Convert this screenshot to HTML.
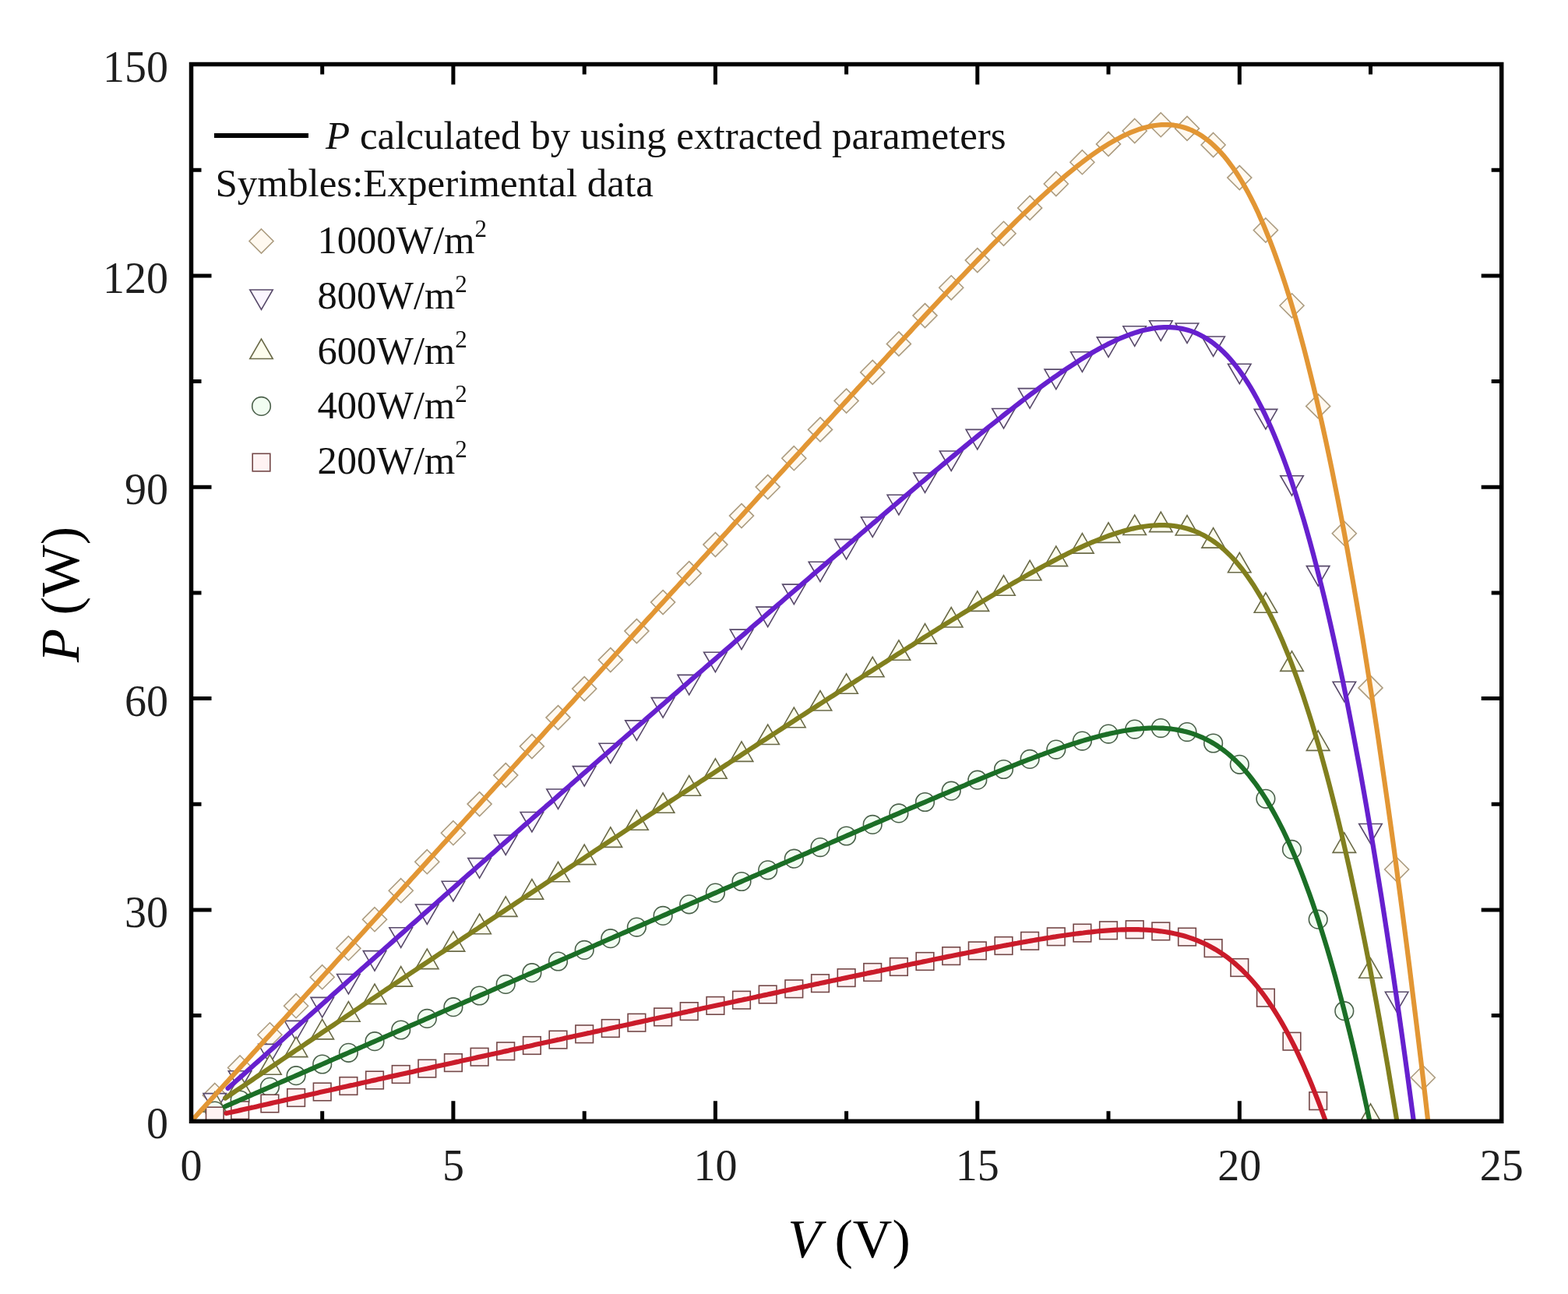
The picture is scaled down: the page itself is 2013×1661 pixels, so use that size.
<!DOCTYPE html>
<html><head><meta charset="utf-8"><style>html,body{margin:0;padding:0;background:#fff;}svg{display:block;}</style></head>
<body><svg width="2013" height="1661" viewBox="0 0 2013 1661">
<rect width="2013" height="1661" fill="#fff"/>
<path d="M413.7 1439.3V1426.3M413.7 82.5V95.5M581.9 1439.3V1413.3M581.9 82.5V108.5M750.2 1439.3V1426.3M750.2 82.5V95.5M918.4 1439.3V1413.3M918.4 82.5V108.5M1086.6 1439.3V1426.3M1086.6 82.5V95.5M1254.8 1439.3V1413.3M1254.8 82.5V108.5M1423.0 1439.3V1426.3M1423.0 82.5V95.5M1591.3 1439.3V1413.3M1591.3 82.5V108.5M1759.5 1439.3V1426.3M1759.5 82.5V95.5M245.5 1303.6H258.5M1927.7 1303.6H1914.7M245.5 1167.9H271.5M1927.7 1167.9H1901.7M245.5 1032.3H258.5M1927.7 1032.3H1914.7M245.5 896.6H271.5M1927.7 896.6H1901.7M245.5 760.9H258.5M1927.7 760.9H1914.7M245.5 625.2H271.5M1927.7 625.2H1901.7M245.5 489.5H258.5M1927.7 489.5H1914.7M245.5 353.9H271.5M1927.7 353.9H1901.7M245.5 218.2H258.5M1927.7 218.2H1914.7" stroke="#000" stroke-width="5" fill="none"/>
<defs><clipPath id="pc"><rect x="245.5" y="82.5" width="1682.2" height="1356.8"/></clipPath></defs>
<g clip-path="url(#pc)"><path d="M275.8 1390.5L291.3 1406.0L275.8 1421.5L260.3 1406.0Z" fill="#FFF9F0" stroke="#AC9C80" stroke-width="1.6"/><path d="M308.1 1355.0L323.6 1370.5L308.1 1386.0L292.6 1370.5Z" fill="#FFF9F0" stroke="#AC9C80" stroke-width="1.6"/><path d="M346.4 1312.8L361.9 1328.3L346.4 1343.8L330.9 1328.3Z" fill="#FFF9F0" stroke="#AC9C80" stroke-width="1.6"/><path d="M380.1 1275.7L395.6 1291.2L380.1 1306.7L364.6 1291.2Z" fill="#FFF9F0" stroke="#AC9C80" stroke-width="1.6"/><path d="M413.7 1238.7L429.2 1254.2L413.7 1269.7L398.2 1254.2Z" fill="#FFF9F0" stroke="#AC9C80" stroke-width="1.6"/><path d="M447.4 1201.7L462.9 1217.2L447.4 1232.7L431.9 1217.2Z" fill="#FFF9F0" stroke="#AC9C80" stroke-width="1.6"/><path d="M481.0 1164.7L496.5 1180.2L481.0 1195.7L465.5 1180.2Z" fill="#FFF9F0" stroke="#AC9C80" stroke-width="1.6"/><path d="M514.7 1127.7L530.2 1143.2L514.7 1158.7L499.2 1143.2Z" fill="#FFF9F0" stroke="#AC9C80" stroke-width="1.6"/><path d="M548.3 1090.7L563.8 1106.2L548.3 1121.7L532.8 1106.2Z" fill="#FFF9F0" stroke="#AC9C80" stroke-width="1.6"/><path d="M581.9 1053.7L597.4 1069.2L581.9 1084.7L566.4 1069.2Z" fill="#FFF9F0" stroke="#AC9C80" stroke-width="1.6"/><path d="M615.6 1016.6L631.1 1032.1L615.6 1047.6L600.1 1032.1Z" fill="#FFF9F0" stroke="#AC9C80" stroke-width="1.6"/><path d="M649.2 979.6L664.7 995.1L649.2 1010.6L633.7 995.1Z" fill="#FFF9F0" stroke="#AC9C80" stroke-width="1.6"/><path d="M682.9 942.6L698.4 958.1L682.9 973.6L667.4 958.1Z" fill="#FFF9F0" stroke="#AC9C80" stroke-width="1.6"/><path d="M716.5 905.6L732.0 921.1L716.5 936.6L701.0 921.1Z" fill="#FFF9F0" stroke="#AC9C80" stroke-width="1.6"/><path d="M750.2 868.6L765.7 884.1L750.2 899.6L734.7 884.1Z" fill="#FFF9F0" stroke="#AC9C80" stroke-width="1.6"/><path d="M783.8 831.6L799.3 847.1L783.8 862.6L768.3 847.1Z" fill="#FFF9F0" stroke="#AC9C80" stroke-width="1.6"/><path d="M817.4 794.6L832.9 810.1L817.4 825.6L801.9 810.1Z" fill="#FFF9F0" stroke="#AC9C80" stroke-width="1.6"/><path d="M851.1 757.6L866.6 773.1L851.1 788.6L835.6 773.1Z" fill="#FFF9F0" stroke="#AC9C80" stroke-width="1.6"/><path d="M884.7 720.6L900.2 736.1L884.7 751.6L869.2 736.1Z" fill="#FFF9F0" stroke="#AC9C80" stroke-width="1.6"/><path d="M918.4 683.6L933.9 699.1L918.4 714.6L902.9 699.1Z" fill="#FFF9F0" stroke="#AC9C80" stroke-width="1.6"/><path d="M952.0 646.6L967.5 662.1L952.0 677.6L936.5 662.1Z" fill="#FFF9F0" stroke="#AC9C80" stroke-width="1.6"/><path d="M985.7 609.6L1001.2 625.1L985.7 640.6L970.2 625.1Z" fill="#FFF9F0" stroke="#AC9C80" stroke-width="1.6"/><path d="M1019.3 572.7L1034.8 588.2L1019.3 603.7L1003.8 588.2Z" fill="#FFF9F0" stroke="#AC9C80" stroke-width="1.6"/><path d="M1053.0 535.9L1068.5 551.4L1053.0 566.9L1037.5 551.4Z" fill="#FFF9F0" stroke="#AC9C80" stroke-width="1.6"/><path d="M1086.6 499.1L1102.1 514.6L1086.6 530.1L1071.1 514.6Z" fill="#FFF9F0" stroke="#AC9C80" stroke-width="1.6"/><path d="M1120.2 462.4L1135.7 477.9L1120.2 493.4L1104.7 477.9Z" fill="#FFF9F0" stroke="#AC9C80" stroke-width="1.6"/><path d="M1153.9 425.9L1169.4 441.4L1153.9 456.9L1138.4 441.4Z" fill="#FFF9F0" stroke="#AC9C80" stroke-width="1.6"/><path d="M1187.5 389.6L1203.0 405.1L1187.5 420.6L1172.0 405.1Z" fill="#FFF9F0" stroke="#AC9C80" stroke-width="1.6"/><path d="M1221.2 353.8L1236.7 369.3L1221.2 384.8L1205.7 369.3Z" fill="#FFF9F0" stroke="#AC9C80" stroke-width="1.6"/><path d="M1254.8 318.6L1270.3 334.1L1254.8 349.6L1239.3 334.1Z" fill="#FFF9F0" stroke="#AC9C80" stroke-width="1.6"/><path d="M1288.5 284.3L1304.0 299.8L1288.5 315.3L1273.0 299.8Z" fill="#FFF9F0" stroke="#AC9C80" stroke-width="1.6"/><path d="M1322.1 251.4L1337.6 266.9L1322.1 282.4L1306.6 266.9Z" fill="#FFF9F0" stroke="#AC9C80" stroke-width="1.6"/><path d="M1355.8 220.5L1371.3 236.0L1355.8 251.5L1340.3 236.0Z" fill="#FFF9F0" stroke="#AC9C80" stroke-width="1.6"/><path d="M1389.4 192.7L1404.9 208.2L1389.4 223.7L1373.9 208.2Z" fill="#FFF9F0" stroke="#AC9C80" stroke-width="1.6"/><path d="M1423.0 169.4L1438.5 184.9L1423.0 200.4L1407.5 184.9Z" fill="#FFF9F0" stroke="#AC9C80" stroke-width="1.6"/><path d="M1456.7 152.5L1472.2 168.0L1456.7 183.5L1441.2 168.0Z" fill="#FFF9F0" stroke="#AC9C80" stroke-width="1.6"/><path d="M1490.3 144.7L1505.8 160.2L1490.3 175.7L1474.8 160.2Z" fill="#FFF9F0" stroke="#AC9C80" stroke-width="1.6"/><path d="M1524.0 149.4L1539.5 164.9L1524.0 180.4L1508.5 164.9Z" fill="#FFF9F0" stroke="#AC9C80" stroke-width="1.6"/><path d="M1557.6 170.5L1573.1 186.0L1557.6 201.5L1542.1 186.0Z" fill="#FFF9F0" stroke="#AC9C80" stroke-width="1.6"/><path d="M1591.3 212.6L1606.8 228.1L1591.3 243.6L1575.8 228.1Z" fill="#FFF9F0" stroke="#AC9C80" stroke-width="1.6"/><path d="M1624.9 280.0L1640.4 295.5L1624.9 311.0L1609.4 295.5Z" fill="#FFF9F0" stroke="#AC9C80" stroke-width="1.6"/><path d="M1658.5 376.8L1674.0 392.3L1658.5 407.8L1643.0 392.3Z" fill="#FFF9F0" stroke="#AC9C80" stroke-width="1.6"/><path d="M1692.2 505.9L1707.7 521.4L1692.2 536.9L1676.7 521.4Z" fill="#FFF9F0" stroke="#AC9C80" stroke-width="1.6"/><path d="M1725.8 669.2L1741.3 684.7L1725.8 700.2L1710.3 684.7Z" fill="#FFF9F0" stroke="#AC9C80" stroke-width="1.6"/><path d="M1759.5 867.4L1775.0 882.9L1759.5 898.4L1744.0 882.9Z" fill="#FFF9F0" stroke="#AC9C80" stroke-width="1.6"/><path d="M1793.1 1100.5L1808.6 1116.0L1793.1 1131.5L1777.6 1116.0Z" fill="#FFF9F0" stroke="#AC9C80" stroke-width="1.6"/><path d="M1826.8 1367.8L1842.3 1383.3L1826.8 1398.8L1811.3 1383.3Z" fill="#FFF9F0" stroke="#AC9C80" stroke-width="1.6"/><path d="M261.0 1403.6L290.5 1403.6L275.8 1429.1Z" fill="#FBF6FF" stroke="#584A6A" stroke-width="1.6"/><path d="M293.3 1374.7L322.8 1374.7L308.1 1400.2Z" fill="#FBF6FF" stroke="#584A6A" stroke-width="1.6"/><path d="M331.7 1340.4L361.2 1340.4L346.4 1365.9Z" fill="#FBF6FF" stroke="#584A6A" stroke-width="1.6"/><path d="M365.3 1310.4L394.8 1310.4L380.1 1335.9Z" fill="#FBF6FF" stroke="#584A6A" stroke-width="1.6"/><path d="M399.0 1280.4L428.5 1280.4L413.7 1305.9Z" fill="#FBF6FF" stroke="#584A6A" stroke-width="1.6"/><path d="M432.6 1250.5L462.1 1250.5L447.4 1276.0Z" fill="#FBF6FF" stroke="#584A6A" stroke-width="1.6"/><path d="M466.3 1220.6L495.8 1220.6L481.0 1246.1Z" fill="#FBF6FF" stroke="#584A6A" stroke-width="1.6"/><path d="M499.9 1190.8L529.4 1190.8L514.7 1216.3Z" fill="#FBF6FF" stroke="#584A6A" stroke-width="1.6"/><path d="M533.5 1161.0L563.0 1161.0L548.3 1186.5Z" fill="#FBF6FF" stroke="#584A6A" stroke-width="1.6"/><path d="M567.2 1131.3L596.7 1131.3L581.9 1156.8Z" fill="#FBF6FF" stroke="#584A6A" stroke-width="1.6"/><path d="M600.8 1101.6L630.3 1101.6L615.6 1127.1Z" fill="#FBF6FF" stroke="#584A6A" stroke-width="1.6"/><path d="M634.5 1072.0L664.0 1072.0L649.2 1097.5Z" fill="#FBF6FF" stroke="#584A6A" stroke-width="1.6"/><path d="M668.1 1042.5L697.6 1042.5L682.9 1068.0Z" fill="#FBF6FF" stroke="#584A6A" stroke-width="1.6"/><path d="M701.8 1013.0L731.3 1013.0L716.5 1038.5Z" fill="#FBF6FF" stroke="#584A6A" stroke-width="1.6"/><path d="M735.4 983.6L764.9 983.6L750.2 1009.1Z" fill="#FBF6FF" stroke="#584A6A" stroke-width="1.6"/><path d="M769.1 954.2L798.6 954.2L783.8 979.7Z" fill="#FBF6FF" stroke="#584A6A" stroke-width="1.6"/><path d="M802.7 924.9L832.2 924.9L817.4 950.4Z" fill="#FBF6FF" stroke="#584A6A" stroke-width="1.6"/><path d="M836.3 895.6L865.8 895.6L851.1 921.1Z" fill="#FBF6FF" stroke="#584A6A" stroke-width="1.6"/><path d="M870.0 866.4L899.5 866.4L884.7 891.9Z" fill="#FBF6FF" stroke="#584A6A" stroke-width="1.6"/><path d="M903.6 837.2L933.1 837.2L918.4 862.7Z" fill="#FBF6FF" stroke="#584A6A" stroke-width="1.6"/><path d="M937.3 808.1L966.8 808.1L952.0 833.6Z" fill="#FBF6FF" stroke="#584A6A" stroke-width="1.6"/><path d="M970.9 779.1L1000.4 779.1L985.7 804.6Z" fill="#FBF6FF" stroke="#584A6A" stroke-width="1.6"/><path d="M1004.6 750.1L1034.1 750.1L1019.3 775.6Z" fill="#FBF6FF" stroke="#584A6A" stroke-width="1.6"/><path d="M1038.2 721.2L1067.7 721.2L1053.0 746.7Z" fill="#FBF6FF" stroke="#584A6A" stroke-width="1.6"/><path d="M1071.8 692.4L1101.3 692.4L1086.6 717.9Z" fill="#FBF6FF" stroke="#584A6A" stroke-width="1.6"/><path d="M1105.5 663.8L1135.0 663.8L1120.2 689.3Z" fill="#FBF6FF" stroke="#584A6A" stroke-width="1.6"/><path d="M1139.1 635.3L1168.6 635.3L1153.9 660.8Z" fill="#FBF6FF" stroke="#584A6A" stroke-width="1.6"/><path d="M1172.8 607.0L1202.3 607.0L1187.5 632.5Z" fill="#FBF6FF" stroke="#584A6A" stroke-width="1.6"/><path d="M1206.4 579.0L1235.9 579.0L1221.2 604.5Z" fill="#FBF6FF" stroke="#584A6A" stroke-width="1.6"/><path d="M1240.1 551.4L1269.6 551.4L1254.8 576.9Z" fill="#FBF6FF" stroke="#584A6A" stroke-width="1.6"/><path d="M1273.7 524.5L1303.2 524.5L1288.5 550.0Z" fill="#FBF6FF" stroke="#584A6A" stroke-width="1.6"/><path d="M1307.4 498.6L1336.9 498.6L1322.1 524.1Z" fill="#FBF6FF" stroke="#584A6A" stroke-width="1.6"/><path d="M1341.0 474.1L1370.5 474.1L1355.8 499.6Z" fill="#FBF6FF" stroke="#584A6A" stroke-width="1.6"/><path d="M1374.6 451.8L1404.1 451.8L1389.4 477.3Z" fill="#FBF6FF" stroke="#584A6A" stroke-width="1.6"/><path d="M1408.3 432.9L1437.8 432.9L1423.0 458.4Z" fill="#FBF6FF" stroke="#584A6A" stroke-width="1.6"/><path d="M1441.9 418.8L1471.4 418.8L1456.7 444.3Z" fill="#FBF6FF" stroke="#584A6A" stroke-width="1.6"/><path d="M1475.6 411.8L1505.1 411.8L1490.3 437.3Z" fill="#FBF6FF" stroke="#584A6A" stroke-width="1.6"/><path d="M1509.2 415.0L1538.7 415.0L1524.0 440.5Z" fill="#FBF6FF" stroke="#584A6A" stroke-width="1.6"/><path d="M1542.9 432.0L1572.4 432.0L1557.6 457.5Z" fill="#FBF6FF" stroke="#584A6A" stroke-width="1.6"/><path d="M1576.5 467.2L1606.0 467.2L1591.3 492.7Z" fill="#FBF6FF" stroke="#584A6A" stroke-width="1.6"/><path d="M1610.2 525.4L1639.7 525.4L1624.9 550.9Z" fill="#FBF6FF" stroke="#584A6A" stroke-width="1.6"/><path d="M1643.8 610.7L1673.3 610.7L1658.5 636.2Z" fill="#FBF6FF" stroke="#584A6A" stroke-width="1.6"/><path d="M1677.4 726.6L1706.9 726.6L1692.2 752.1Z" fill="#FBF6FF" stroke="#584A6A" stroke-width="1.6"/><path d="M1711.1 875.2L1740.6 875.2L1725.8 900.7Z" fill="#FBF6FF" stroke="#584A6A" stroke-width="1.6"/><path d="M1744.7 1057.5L1774.2 1057.5L1759.5 1083.0Z" fill="#FBF6FF" stroke="#584A6A" stroke-width="1.6"/><path d="M1778.4 1273.3L1807.9 1273.3L1793.1 1298.8Z" fill="#FBF6FF" stroke="#584A6A" stroke-width="1.6"/><path d="M261.0 1427.2L290.5 1427.2L275.8 1401.7Z" fill="#FDFDEE" stroke="#6A6A48" stroke-width="1.6"/><path d="M293.3 1405.3L322.8 1405.3L308.1 1379.8Z" fill="#FDFDEE" stroke="#6A6A48" stroke-width="1.6"/><path d="M331.7 1379.3L361.2 1379.3L346.4 1353.8Z" fill="#FDFDEE" stroke="#6A6A48" stroke-width="1.6"/><path d="M365.3 1356.6L394.8 1356.6L380.1 1331.1Z" fill="#FDFDEE" stroke="#6A6A48" stroke-width="1.6"/><path d="M399.0 1333.9L428.5 1333.9L413.7 1308.4Z" fill="#FDFDEE" stroke="#6A6A48" stroke-width="1.6"/><path d="M432.6 1311.2L462.1 1311.2L447.4 1285.7Z" fill="#FDFDEE" stroke="#6A6A48" stroke-width="1.6"/><path d="M466.3 1288.6L495.8 1288.6L481.0 1263.1Z" fill="#FDFDEE" stroke="#6A6A48" stroke-width="1.6"/><path d="M499.9 1266.1L529.4 1266.1L514.7 1240.6Z" fill="#FDFDEE" stroke="#6A6A48" stroke-width="1.6"/><path d="M533.5 1243.6L563.0 1243.6L548.3 1218.1Z" fill="#FDFDEE" stroke="#6A6A48" stroke-width="1.6"/><path d="M567.2 1221.1L596.7 1221.1L581.9 1195.6Z" fill="#FDFDEE" stroke="#6A6A48" stroke-width="1.6"/><path d="M600.8 1198.7L630.3 1198.7L615.6 1173.2Z" fill="#FDFDEE" stroke="#6A6A48" stroke-width="1.6"/><path d="M634.5 1176.4L664.0 1176.4L649.2 1150.9Z" fill="#FDFDEE" stroke="#6A6A48" stroke-width="1.6"/><path d="M668.1 1154.1L697.6 1154.1L682.9 1128.6Z" fill="#FDFDEE" stroke="#6A6A48" stroke-width="1.6"/><path d="M701.8 1131.8L731.3 1131.8L716.5 1106.3Z" fill="#FDFDEE" stroke="#6A6A48" stroke-width="1.6"/><path d="M735.4 1109.6L764.9 1109.6L750.2 1084.1Z" fill="#FDFDEE" stroke="#6A6A48" stroke-width="1.6"/><path d="M769.1 1087.4L798.6 1087.4L783.8 1061.9Z" fill="#FDFDEE" stroke="#6A6A48" stroke-width="1.6"/><path d="M802.7 1065.3L832.2 1065.3L817.4 1039.8Z" fill="#FDFDEE" stroke="#6A6A48" stroke-width="1.6"/><path d="M836.3 1043.3L865.8 1043.3L851.1 1017.8Z" fill="#FDFDEE" stroke="#6A6A48" stroke-width="1.6"/><path d="M870.0 1021.2L899.5 1021.2L884.7 995.7Z" fill="#FDFDEE" stroke="#6A6A48" stroke-width="1.6"/><path d="M903.6 999.3L933.1 999.3L918.4 973.8Z" fill="#FDFDEE" stroke="#6A6A48" stroke-width="1.6"/><path d="M937.3 977.4L966.8 977.4L952.0 951.9Z" fill="#FDFDEE" stroke="#6A6A48" stroke-width="1.6"/><path d="M970.9 955.5L1000.4 955.5L985.7 930.0Z" fill="#FDFDEE" stroke="#6A6A48" stroke-width="1.6"/><path d="M1004.6 933.7L1034.1 933.7L1019.3 908.2Z" fill="#FDFDEE" stroke="#6A6A48" stroke-width="1.6"/><path d="M1038.2 912.0L1067.7 912.0L1053.0 886.5Z" fill="#FDFDEE" stroke="#6A6A48" stroke-width="1.6"/><path d="M1071.8 890.3L1101.3 890.3L1086.6 864.8Z" fill="#FDFDEE" stroke="#6A6A48" stroke-width="1.6"/><path d="M1105.5 868.8L1135.0 868.8L1120.2 843.3Z" fill="#FDFDEE" stroke="#6A6A48" stroke-width="1.6"/><path d="M1139.1 847.3L1168.6 847.3L1153.9 821.8Z" fill="#FDFDEE" stroke="#6A6A48" stroke-width="1.6"/><path d="M1172.8 826.1L1202.3 826.1L1187.5 800.6Z" fill="#FDFDEE" stroke="#6A6A48" stroke-width="1.6"/><path d="M1206.4 805.0L1235.9 805.0L1221.2 779.5Z" fill="#FDFDEE" stroke="#6A6A48" stroke-width="1.6"/><path d="M1240.1 784.4L1269.6 784.4L1254.8 758.9Z" fill="#FDFDEE" stroke="#6A6A48" stroke-width="1.6"/><path d="M1273.7 764.2L1303.2 764.2L1288.5 738.7Z" fill="#FDFDEE" stroke="#6A6A48" stroke-width="1.6"/><path d="M1307.4 744.8L1336.9 744.8L1322.1 719.3Z" fill="#FDFDEE" stroke="#6A6A48" stroke-width="1.6"/><path d="M1341.0 726.6L1370.5 726.6L1355.8 701.1Z" fill="#FDFDEE" stroke="#6A6A48" stroke-width="1.6"/><path d="M1374.6 710.1L1404.1 710.1L1389.4 684.6Z" fill="#FDFDEE" stroke="#6A6A48" stroke-width="1.6"/><path d="M1408.3 696.4L1437.8 696.4L1423.0 670.9Z" fill="#FDFDEE" stroke="#6A6A48" stroke-width="1.6"/><path d="M1441.9 686.5L1471.4 686.5L1456.7 661.0Z" fill="#FDFDEE" stroke="#6A6A48" stroke-width="1.6"/><path d="M1475.6 682.6L1505.1 682.6L1490.3 657.1Z" fill="#FDFDEE" stroke="#6A6A48" stroke-width="1.6"/><path d="M1509.2 687.0L1538.7 687.0L1524.0 661.5Z" fill="#FDFDEE" stroke="#6A6A48" stroke-width="1.6"/><path d="M1542.9 703.1L1572.4 703.1L1557.6 677.6Z" fill="#FDFDEE" stroke="#6A6A48" stroke-width="1.6"/><path d="M1576.5 734.8L1606.0 734.8L1591.3 709.3Z" fill="#FDFDEE" stroke="#6A6A48" stroke-width="1.6"/><path d="M1610.2 786.3L1639.7 786.3L1624.9 760.8Z" fill="#FDFDEE" stroke="#6A6A48" stroke-width="1.6"/><path d="M1643.8 861.4L1673.3 861.4L1658.5 835.9Z" fill="#FDFDEE" stroke="#6A6A48" stroke-width="1.6"/><path d="M1677.4 963.4L1706.9 963.4L1692.2 937.9Z" fill="#FDFDEE" stroke="#6A6A48" stroke-width="1.6"/><path d="M1711.1 1094.4L1740.6 1094.4L1725.8 1068.9Z" fill="#FDFDEE" stroke="#6A6A48" stroke-width="1.6"/><path d="M1744.7 1255.3L1774.2 1255.3L1759.5 1229.8Z" fill="#FDFDEE" stroke="#6A6A48" stroke-width="1.6"/><path d="M1744.7 1442.4L1774.2 1442.4L1759.5 1416.9Z" fill="#FDFDEE" stroke="#6A6A48" stroke-width="1.6"/><circle cx="275.8" cy="1426.1" r="11.8" fill="#F2FDF2" stroke="#4A604A" stroke-width="1.6"/><circle cx="308.1" cy="1412.0" r="11.8" fill="#F2FDF2" stroke="#4A604A" stroke-width="1.6"/><circle cx="346.4" cy="1395.3" r="11.8" fill="#F2FDF2" stroke="#4A604A" stroke-width="1.6"/><circle cx="380.1" cy="1380.7" r="11.8" fill="#F2FDF2" stroke="#4A604A" stroke-width="1.6"/><circle cx="413.7" cy="1366.0" r="11.8" fill="#F2FDF2" stroke="#4A604A" stroke-width="1.6"/><circle cx="447.4" cy="1351.3" r="11.8" fill="#F2FDF2" stroke="#4A604A" stroke-width="1.6"/><circle cx="481.0" cy="1336.7" r="11.8" fill="#F2FDF2" stroke="#4A604A" stroke-width="1.6"/><circle cx="514.7" cy="1322.0" r="11.8" fill="#F2FDF2" stroke="#4A604A" stroke-width="1.6"/><circle cx="548.3" cy="1307.4" r="11.8" fill="#F2FDF2" stroke="#4A604A" stroke-width="1.6"/><circle cx="581.9" cy="1292.7" r="11.8" fill="#F2FDF2" stroke="#4A604A" stroke-width="1.6"/><circle cx="615.6" cy="1278.0" r="11.8" fill="#F2FDF2" stroke="#4A604A" stroke-width="1.6"/><circle cx="649.2" cy="1263.4" r="11.8" fill="#F2FDF2" stroke="#4A604A" stroke-width="1.6"/><circle cx="682.9" cy="1248.7" r="11.8" fill="#F2FDF2" stroke="#4A604A" stroke-width="1.6"/><circle cx="716.5" cy="1234.0" r="11.8" fill="#F2FDF2" stroke="#4A604A" stroke-width="1.6"/><circle cx="750.2" cy="1219.4" r="11.8" fill="#F2FDF2" stroke="#4A604A" stroke-width="1.6"/><circle cx="783.8" cy="1204.7" r="11.8" fill="#F2FDF2" stroke="#4A604A" stroke-width="1.6"/><circle cx="817.4" cy="1190.1" r="11.8" fill="#F2FDF2" stroke="#4A604A" stroke-width="1.6"/><circle cx="851.1" cy="1175.4" r="11.8" fill="#F2FDF2" stroke="#4A604A" stroke-width="1.6"/><circle cx="884.7" cy="1160.8" r="11.8" fill="#F2FDF2" stroke="#4A604A" stroke-width="1.6"/><circle cx="918.4" cy="1146.1" r="11.8" fill="#F2FDF2" stroke="#4A604A" stroke-width="1.6"/><circle cx="952.0" cy="1131.5" r="11.8" fill="#F2FDF2" stroke="#4A604A" stroke-width="1.6"/><circle cx="985.7" cy="1116.8" r="11.8" fill="#F2FDF2" stroke="#4A604A" stroke-width="1.6"/><circle cx="1019.3" cy="1102.2" r="11.8" fill="#F2FDF2" stroke="#4A604A" stroke-width="1.6"/><circle cx="1053.0" cy="1087.6" r="11.8" fill="#F2FDF2" stroke="#4A604A" stroke-width="1.6"/><circle cx="1086.6" cy="1073.0" r="11.8" fill="#F2FDF2" stroke="#4A604A" stroke-width="1.6"/><circle cx="1120.2" cy="1058.4" r="11.8" fill="#F2FDF2" stroke="#4A604A" stroke-width="1.6"/><circle cx="1153.9" cy="1043.9" r="11.8" fill="#F2FDF2" stroke="#4A604A" stroke-width="1.6"/><circle cx="1187.5" cy="1029.5" r="11.8" fill="#F2FDF2" stroke="#4A604A" stroke-width="1.6"/><circle cx="1221.2" cy="1015.2" r="11.8" fill="#F2FDF2" stroke="#4A604A" stroke-width="1.6"/><circle cx="1254.8" cy="1001.2" r="11.8" fill="#F2FDF2" stroke="#4A604A" stroke-width="1.6"/><circle cx="1288.5" cy="987.5" r="11.8" fill="#F2FDF2" stroke="#4A604A" stroke-width="1.6"/><circle cx="1322.1" cy="974.4" r="11.8" fill="#F2FDF2" stroke="#4A604A" stroke-width="1.6"/><circle cx="1355.8" cy="962.1" r="11.8" fill="#F2FDF2" stroke="#4A604A" stroke-width="1.6"/><circle cx="1389.4" cy="951.1" r="11.8" fill="#F2FDF2" stroke="#4A604A" stroke-width="1.6"/><circle cx="1423.0" cy="942.1" r="11.8" fill="#F2FDF2" stroke="#4A604A" stroke-width="1.6"/><circle cx="1456.7" cy="936.1" r="11.8" fill="#F2FDF2" stroke="#4A604A" stroke-width="1.6"/><circle cx="1490.3" cy="934.6" r="11.8" fill="#F2FDF2" stroke="#4A604A" stroke-width="1.6"/><circle cx="1524.0" cy="939.6" r="11.8" fill="#F2FDF2" stroke="#4A604A" stroke-width="1.6"/><circle cx="1557.6" cy="954.0" r="11.8" fill="#F2FDF2" stroke="#4A604A" stroke-width="1.6"/><circle cx="1591.3" cy="981.3" r="11.8" fill="#F2FDF2" stroke="#4A604A" stroke-width="1.6"/><circle cx="1624.9" cy="1025.3" r="11.8" fill="#F2FDF2" stroke="#4A604A" stroke-width="1.6"/><circle cx="1658.5" cy="1090.4" r="11.8" fill="#F2FDF2" stroke="#4A604A" stroke-width="1.6"/><circle cx="1692.2" cy="1180.2" r="11.8" fill="#F2FDF2" stroke="#4A604A" stroke-width="1.6"/><circle cx="1725.8" cy="1297.7" r="11.8" fill="#F2FDF2" stroke="#4A604A" stroke-width="1.6"/><rect x="264.5" y="1421.2" width="22.6" height="22.6" fill="#FFF3F3" stroke="#744848" stroke-width="1.6"/><rect x="296.8" y="1413.9" width="22.6" height="22.6" fill="#FFF3F3" stroke="#744848" stroke-width="1.6"/><rect x="335.1" y="1405.2" width="22.6" height="22.6" fill="#FFF3F3" stroke="#744848" stroke-width="1.6"/><rect x="368.8" y="1397.7" width="22.6" height="22.6" fill="#FFF3F3" stroke="#744848" stroke-width="1.6"/><rect x="402.4" y="1390.2" width="22.6" height="22.6" fill="#FFF3F3" stroke="#744848" stroke-width="1.6"/><rect x="436.1" y="1382.7" width="22.6" height="22.6" fill="#FFF3F3" stroke="#744848" stroke-width="1.6"/><rect x="469.7" y="1375.2" width="22.6" height="22.6" fill="#FFF3F3" stroke="#744848" stroke-width="1.6"/><rect x="503.4" y="1367.7" width="22.6" height="22.6" fill="#FFF3F3" stroke="#744848" stroke-width="1.6"/><rect x="537.0" y="1360.3" width="22.6" height="22.6" fill="#FFF3F3" stroke="#744848" stroke-width="1.6"/><rect x="570.6" y="1352.8" width="22.6" height="22.6" fill="#FFF3F3" stroke="#744848" stroke-width="1.6"/><rect x="604.3" y="1345.4" width="22.6" height="22.6" fill="#FFF3F3" stroke="#744848" stroke-width="1.6"/><rect x="637.9" y="1338.0" width="22.6" height="22.6" fill="#FFF3F3" stroke="#744848" stroke-width="1.6"/><rect x="671.6" y="1330.7" width="22.6" height="22.6" fill="#FFF3F3" stroke="#744848" stroke-width="1.6"/><rect x="705.2" y="1323.3" width="22.6" height="22.6" fill="#FFF3F3" stroke="#744848" stroke-width="1.6"/><rect x="738.9" y="1316.0" width="22.6" height="22.6" fill="#FFF3F3" stroke="#744848" stroke-width="1.6"/><rect x="772.5" y="1308.7" width="22.6" height="22.6" fill="#FFF3F3" stroke="#744848" stroke-width="1.6"/><rect x="806.1" y="1301.4" width="22.6" height="22.6" fill="#FFF3F3" stroke="#744848" stroke-width="1.6"/><rect x="839.8" y="1294.1" width="22.6" height="22.6" fill="#FFF3F3" stroke="#744848" stroke-width="1.6"/><rect x="873.4" y="1286.8" width="22.6" height="22.6" fill="#FFF3F3" stroke="#744848" stroke-width="1.6"/><rect x="907.1" y="1279.6" width="22.6" height="22.6" fill="#FFF3F3" stroke="#744848" stroke-width="1.6"/><rect x="940.7" y="1272.4" width="22.6" height="22.6" fill="#FFF3F3" stroke="#744848" stroke-width="1.6"/><rect x="974.4" y="1265.2" width="22.6" height="22.6" fill="#FFF3F3" stroke="#744848" stroke-width="1.6"/><rect x="1008.0" y="1258.0" width="22.6" height="22.6" fill="#FFF3F3" stroke="#744848" stroke-width="1.6"/><rect x="1041.7" y="1250.9" width="22.6" height="22.6" fill="#FFF3F3" stroke="#744848" stroke-width="1.6"/><rect x="1075.3" y="1243.8" width="22.6" height="22.6" fill="#FFF3F3" stroke="#744848" stroke-width="1.6"/><rect x="1108.9" y="1236.7" width="22.6" height="22.6" fill="#FFF3F3" stroke="#744848" stroke-width="1.6"/><rect x="1142.6" y="1229.7" width="22.6" height="22.6" fill="#FFF3F3" stroke="#744848" stroke-width="1.6"/><rect x="1176.2" y="1222.7" width="22.6" height="22.6" fill="#FFF3F3" stroke="#744848" stroke-width="1.6"/><rect x="1209.9" y="1215.8" width="22.6" height="22.6" fill="#FFF3F3" stroke="#744848" stroke-width="1.6"/><rect x="1243.5" y="1209.1" width="22.6" height="22.6" fill="#FFF3F3" stroke="#744848" stroke-width="1.6"/><rect x="1277.2" y="1202.7" width="22.6" height="22.6" fill="#FFF3F3" stroke="#744848" stroke-width="1.6"/><rect x="1310.8" y="1196.5" width="22.6" height="22.6" fill="#FFF3F3" stroke="#744848" stroke-width="1.6"/><rect x="1344.5" y="1191.0" width="22.6" height="22.6" fill="#FFF3F3" stroke="#744848" stroke-width="1.6"/><rect x="1378.1" y="1186.3" width="22.6" height="22.6" fill="#FFF3F3" stroke="#744848" stroke-width="1.6"/><rect x="1411.7" y="1183.0" width="22.6" height="22.6" fill="#FFF3F3" stroke="#744848" stroke-width="1.6"/><rect x="1445.4" y="1181.9" width="22.6" height="22.6" fill="#FFF3F3" stroke="#744848" stroke-width="1.6"/><rect x="1479.0" y="1184.1" width="22.6" height="22.6" fill="#FFF3F3" stroke="#744848" stroke-width="1.6"/><rect x="1512.7" y="1191.3" width="22.6" height="22.6" fill="#FFF3F3" stroke="#744848" stroke-width="1.6"/><rect x="1546.3" y="1205.8" width="22.6" height="22.6" fill="#FFF3F3" stroke="#744848" stroke-width="1.6"/><rect x="1580.0" y="1230.7" width="22.6" height="22.6" fill="#FFF3F3" stroke="#744848" stroke-width="1.6"/><rect x="1613.6" y="1269.4" width="22.6" height="22.6" fill="#FFF3F3" stroke="#744848" stroke-width="1.6"/><rect x="1647.2" y="1325.4" width="22.6" height="22.6" fill="#FFF3F3" stroke="#744848" stroke-width="1.6"/><rect x="1680.9" y="1401.9" width="22.6" height="22.6" fill="#FFF3F3" stroke="#744848" stroke-width="1.6"/></g>
<g clip-path="url(#pc)"><polyline points="245.5,1439.3 249.5,1434.9 253.5,1430.5 257.4,1426.2 261.4,1421.8 265.4,1417.4 269.4,1413.0 273.4,1408.7 277.3,1404.3 281.3,1399.9 285.3,1395.5 289.3,1391.1 293.3,1386.8 297.2,1382.4 301.2,1378.0 305.2,1373.6 309.2,1369.2 313.2,1364.9 317.1,1360.5 321.1,1356.1 325.1,1351.7 329.1,1347.4 333.0,1343.0 337.0,1338.6 341.0,1334.2 345.0,1329.8 349.0,1325.5 352.9,1321.1 356.9,1316.7 360.9,1312.3 364.9,1308.0 368.9,1303.6 372.8,1299.2 376.8,1294.8 380.8,1290.4 384.8,1286.1 388.8,1281.7 392.7,1277.3 396.7,1272.9 400.7,1268.5 404.7,1264.2 408.7,1259.8 412.6,1255.4 416.6,1251.0 420.6,1246.7 424.6,1242.3 428.6,1237.9 432.5,1233.5 436.5,1229.1 440.5,1224.8 444.5,1220.4 448.5,1216.0 452.4,1211.6 456.4,1207.3 460.4,1202.9 464.4,1198.5 468.4,1194.1 472.3,1189.7 476.3,1185.4 480.3,1181.0 484.3,1176.6 488.3,1172.2 492.2,1167.8 496.2,1163.5 500.2,1159.1 504.2,1154.7 508.1,1150.3 512.1,1146.0 516.1,1141.6 520.1,1137.2 524.1,1132.8 528.0,1128.4 532.0,1124.1 536.0,1119.7 540.0,1115.3 544.0,1110.9 547.9,1106.6 551.9,1102.2 555.9,1097.8 559.9,1093.4 563.9,1089.0 567.8,1084.7 571.8,1080.3 575.8,1075.9 579.8,1071.5 583.8,1067.2 587.7,1062.8 591.7,1058.4 595.7,1054.0 599.7,1049.6 603.7,1045.3 607.6,1040.9 611.6,1036.5 615.6,1032.1 619.6,1027.7 623.6,1023.4 627.5,1019.0 631.5,1014.6 635.5,1010.2 639.5,1005.9 643.5,1001.5 647.4,997.1 651.4,992.7 655.4,988.3 659.4,984.0 663.4,979.6 667.3,975.2 671.3,970.8 675.3,966.5 679.3,962.1 683.2,957.7 687.2,953.3 691.2,948.9 695.2,944.6 699.2,940.2 703.1,935.8 707.1,931.4 711.1,927.1 715.1,922.7 719.1,918.3 723.0,913.9 727.0,909.5 731.0,905.2 735.0,900.8 739.0,896.4 742.9,892.0 746.9,887.7 750.9,883.3 754.9,878.9 758.9,874.5 762.8,870.1 766.8,865.8 770.8,861.4 774.8,857.0 778.8,852.6 782.7,848.3 786.7,843.9 790.7,839.5 794.7,835.1 798.7,830.7 802.6,826.4 806.6,822.0 810.6,817.6 814.6,813.2 818.6,808.9 822.5,804.5 826.5,800.1 830.5,795.7 834.5,791.3 838.5,787.0 842.4,782.6 846.4,778.2 850.4,773.8 854.4,769.5 858.3,765.1 862.3,760.7 866.3,756.3 870.3,752.0 874.3,747.6 878.2,743.2 882.2,738.8 886.2,734.5 890.2,730.1 894.2,725.7 898.1,721.3 902.1,716.9 906.1,712.6 910.1,708.2 914.1,703.8 918.0,699.5 922.0,695.1 926.0,690.7 930.0,686.3 934.0,682.0 937.9,677.6 941.9,673.2 945.9,668.8 949.9,664.5 953.9,660.1 957.8,655.7 961.8,651.3 965.8,647.0 969.8,642.6 973.8,638.2 977.7,633.9 981.7,629.5 985.7,625.1 989.7,620.8 993.7,616.4 997.6,612.0 1001.6,607.6 1005.6,603.3 1009.6,598.9 1013.5,594.5 1017.5,590.2 1021.5,585.8 1025.5,581.5 1029.5,577.1 1033.4,572.7 1037.4,568.4 1041.4,564.0 1045.4,559.6 1049.4,555.3 1053.3,550.9 1057.3,546.6 1061.3,542.2 1065.3,537.9 1069.3,533.5 1073.2,529.2 1077.2,524.8 1081.2,520.5 1085.2,516.1 1089.2,511.8 1093.1,507.4 1097.1,503.1 1101.1,498.7 1105.1,494.4 1109.1,490.1 1113.0,485.7 1117.0,481.4 1121.0,477.1 1125.0,472.7 1129.0,468.4 1132.9,464.1 1136.9,459.8 1140.9,455.4 1144.9,451.1 1148.9,446.8 1152.8,442.5 1156.8,438.2 1160.8,433.9 1164.8,429.6 1168.8,425.3 1172.7,421.0 1176.7,416.7 1180.7,412.5 1184.7,408.2 1188.6,403.9 1192.6,399.7 1196.6,395.4 1200.6,391.2 1204.6,386.9 1208.5,382.7 1212.5,378.5 1216.5,374.2 1220.5,370.0 1224.5,365.8 1228.4,361.6 1232.4,357.4 1236.4,353.3 1240.4,349.1 1244.4,344.9 1248.3,340.8 1252.3,336.7 1256.3,332.5 1260.3,328.4 1264.3,324.3 1268.2,320.3 1272.2,316.2 1276.2,312.1 1280.2,308.1 1284.2,304.1 1288.1,300.1 1292.1,296.1 1296.1,292.2 1300.1,288.2 1304.1,284.3 1308.0,280.4 1312.0,276.6 1316.0,272.7 1320.0,268.9 1324.0,265.1 1327.9,261.4 1331.9,257.6 1335.9,253.9 1339.9,250.3 1343.9,246.6 1347.8,243.0 1351.8,239.5 1355.8,236.0 1359.8,232.5 1363.7,229.1 1367.7,225.7 1371.7,222.4 1375.7,219.1 1379.7,215.9 1383.6,212.7 1387.6,209.6 1391.6,206.5 1395.6,203.6 1399.6,200.6 1403.5,197.8 1407.5,195.0 1411.5,192.3 1415.5,189.7 1419.5,187.1 1423.4,184.7 1427.4,182.3 1431.4,180.0 1435.4,177.9 1439.4,175.8 1443.3,173.8 1447.3,172.0 1451.3,170.2 1455.3,168.6 1459.3,167.1 1463.2,165.7 1467.2,164.5 1471.2,163.4 1475.2,162.4 1479.2,161.6 1483.1,161.0 1487.1,160.5 1491.1,160.2 1495.1,160.1 1499.1,160.1 1503.0,160.3 1507.0,160.7 1511.0,161.4 1515.0,162.2 1518.9,163.2 1522.9,164.5 1526.9,166.0 1530.9,167.7 1534.9,169.7 1538.8,171.9 1542.8,174.4 1546.8,177.2 1550.8,180.2 1554.8,183.5 1558.7,187.1 1562.7,190.9 1566.7,195.1 1570.7,199.6 1574.7,204.4 1578.6,209.6 1582.6,215.0 1586.6,220.8 1590.6,227.0 1594.6,233.5 1598.5,240.4 1602.5,247.6 1606.5,255.2 1610.5,263.2 1614.5,271.6 1618.4,280.4 1622.4,289.6 1626.4,299.2 1630.4,309.2 1634.4,319.6 1638.3,330.4 1642.3,341.7 1646.3,353.4 1650.3,365.6 1654.3,378.2 1658.2,391.2 1662.2,404.7 1666.2,418.7 1670.2,433.1 1674.2,448.0 1678.1,463.3 1682.1,479.2 1686.1,495.5 1690.1,512.2 1694.0,529.5 1698.0,547.2 1702.0,565.4 1706.0,584.1 1710.0,603.3 1713.9,623.0 1717.9,643.1 1721.9,663.8 1725.9,684.9 1729.9,706.6 1733.8,728.7 1737.8,751.3 1741.8,774.4 1745.8,798.0 1749.8,822.0 1753.7,846.6 1757.7,871.7 1761.7,897.2 1765.7,923.3 1769.7,949.8 1773.6,976.8 1777.6,1004.3 1781.6,1032.3 1785.6,1060.7 1789.6,1089.7 1793.5,1119.1 1797.5,1149.0 1801.5,1179.3 1805.5,1210.2 1809.5,1241.5 1813.4,1273.3 1817.4,1305.6 1821.4,1338.3 1825.4,1371.5 1829.4,1405.2 1833.3,1439.3" fill="none" stroke="#E29634" stroke-width="6.2" stroke-linejoin="round" stroke-linecap="round"/><polyline points="292.6,1397.0 296.4,1393.6 300.2,1390.2 304.0,1386.8 307.9,1383.4 311.7,1380.0 315.5,1376.5 319.3,1373.1 323.1,1369.7 326.9,1366.3 330.8,1362.9 334.6,1359.5 338.4,1356.1 342.2,1352.7 346.0,1349.3 349.8,1345.9 353.6,1342.4 357.5,1339.0 361.3,1335.6 365.1,1332.2 368.9,1328.8 372.7,1325.4 376.5,1322.0 380.4,1318.6 384.2,1315.2 388.0,1311.8 391.8,1308.4 395.6,1305.0 399.4,1301.6 403.2,1298.2 407.1,1294.8 410.9,1291.4 414.7,1288.0 418.5,1284.6 422.3,1281.2 426.1,1277.8 430.0,1274.4 433.8,1271.0 437.6,1267.6 441.4,1264.3 445.2,1260.9 449.0,1257.5 452.8,1254.1 456.7,1250.7 460.5,1247.3 464.3,1243.9 468.1,1240.5 471.9,1237.1 475.7,1233.8 479.6,1230.4 483.4,1227.0 487.2,1223.6 491.0,1220.2 494.8,1216.8 498.6,1213.5 502.4,1210.1 506.3,1206.7 510.1,1203.3 513.9,1199.9 517.7,1196.6 521.5,1193.2 525.3,1189.8 529.2,1186.4 533.0,1183.1 536.8,1179.7 540.6,1176.3 544.4,1172.9 548.2,1169.6 552.0,1166.2 555.9,1162.8 559.7,1159.5 563.5,1156.1 567.3,1152.7 571.1,1149.3 574.9,1146.0 578.8,1142.6 582.6,1139.2 586.4,1135.9 590.2,1132.5 594.0,1129.2 597.8,1125.8 601.6,1122.4 605.5,1119.1 609.3,1115.7 613.1,1112.3 616.9,1109.0 620.7,1105.6 624.5,1102.3 628.4,1098.9 632.2,1095.6 636.0,1092.2 639.8,1088.8 643.6,1085.5 647.4,1082.1 651.2,1078.8 655.1,1075.4 658.9,1072.1 662.7,1068.7 666.5,1065.4 670.3,1062.0 674.1,1058.7 678.0,1055.3 681.8,1052.0 685.6,1048.6 689.4,1045.3 693.2,1041.9 697.0,1038.6 700.8,1035.2 704.7,1031.9 708.5,1028.6 712.3,1025.2 716.1,1021.9 719.9,1018.5 723.7,1015.2 727.6,1011.8 731.4,1008.5 735.2,1005.2 739.0,1001.8 742.8,998.5 746.6,995.2 750.4,991.8 754.3,988.5 758.1,985.2 761.9,981.8 765.7,978.5 769.5,975.2 773.3,971.8 777.2,968.5 781.0,965.2 784.8,961.8 788.6,958.5 792.4,955.2 796.2,951.8 800.0,948.5 803.9,945.2 807.7,941.9 811.5,938.5 815.3,935.2 819.1,931.9 822.9,928.6 826.8,925.3 830.6,921.9 834.4,918.6 838.2,915.3 842.0,912.0 845.8,908.7 849.6,905.3 853.5,902.0 857.3,898.7 861.1,895.4 864.9,892.1 868.7,888.8 872.5,885.5 876.4,882.1 880.2,878.8 884.0,875.5 887.8,872.2 891.6,868.9 895.4,865.6 899.2,862.3 903.1,859.0 906.9,855.7 910.7,852.4 914.5,849.1 918.3,845.8 922.1,842.5 926.0,839.2 929.8,835.9 933.6,832.6 937.4,829.3 941.2,826.0 945.0,822.7 948.8,819.4 952.7,816.1 956.5,812.8 960.3,809.5 964.1,806.2 967.9,802.9 971.7,799.6 975.6,796.3 979.4,793.0 983.2,789.7 987.0,786.4 990.8,783.1 994.6,779.9 998.4,776.6 1002.3,773.3 1006.1,770.0 1009.9,766.7 1013.7,763.4 1017.5,760.2 1021.3,756.9 1025.2,753.6 1029.0,750.3 1032.8,747.0 1036.6,743.8 1040.4,740.5 1044.2,737.2 1048.0,733.9 1051.9,730.7 1055.7,727.4 1059.5,724.1 1063.3,720.9 1067.1,717.6 1070.9,714.3 1074.8,711.1 1078.6,707.8 1082.4,704.5 1086.2,701.3 1090.0,698.0 1093.8,694.8 1097.6,691.5 1101.5,688.3 1105.3,685.0 1109.1,681.8 1112.9,678.5 1116.7,675.3 1120.5,672.0 1124.4,668.8 1128.2,665.5 1132.0,662.3 1135.8,659.1 1139.6,655.8 1143.4,652.6 1147.2,649.4 1151.1,646.2 1154.9,642.9 1158.7,639.7 1162.5,636.5 1166.3,633.3 1170.1,630.1 1174.0,626.9 1177.8,623.7 1181.6,620.4 1185.4,617.3 1189.2,614.1 1193.0,610.9 1196.8,607.7 1200.7,604.5 1204.5,601.3 1208.3,598.1 1212.1,595.0 1215.9,591.8 1219.7,588.7 1223.6,585.5 1227.4,582.4 1231.2,579.2 1235.0,576.1 1238.8,573.0 1242.6,569.8 1246.4,566.7 1250.3,563.6 1254.1,560.5 1257.9,557.4 1261.7,554.3 1265.5,551.3 1269.3,548.2 1273.2,545.1 1277.0,542.1 1280.8,539.1 1284.6,536.1 1288.4,533.0 1292.2,530.0 1296.0,527.1 1299.9,524.1 1303.7,521.1 1307.5,518.2 1311.3,515.3 1315.1,512.4 1318.9,509.5 1322.8,506.6 1326.6,503.7 1330.4,500.9 1334.2,498.1 1338.0,495.3 1341.8,492.5 1345.6,489.8 1349.5,487.0 1353.3,484.3 1357.1,481.7 1360.9,479.0 1364.7,476.4 1368.5,473.8 1372.3,471.3 1376.2,468.8 1380.0,466.3 1383.8,463.8 1387.6,461.4 1391.4,459.1 1395.2,456.8 1399.1,454.5 1402.9,452.3 1406.7,450.1 1410.5,448.0 1414.3,445.9 1418.1,443.9 1421.9,441.9 1425.8,440.0 1429.6,438.2 1433.4,436.4 1437.2,434.7 1441.0,433.1 1444.8,431.6 1448.7,430.1 1452.5,428.7 1456.3,427.4 1460.1,426.2 1463.9,425.1 1467.7,424.1 1471.5,423.2 1475.4,422.4 1479.2,421.7 1483.0,421.1 1486.8,420.6 1490.6,420.3 1494.4,420.1 1498.3,420.0 1502.1,420.1 1505.9,420.3 1509.7,420.7 1513.5,421.2 1517.3,421.9 1521.1,422.7 1525.0,423.7 1528.8,424.9 1532.6,426.3 1536.4,427.9 1540.2,429.7 1544.0,431.7 1547.9,433.9 1551.7,436.3 1555.5,438.9 1559.3,441.8 1563.1,444.9 1566.9,448.2 1570.7,451.8 1574.6,455.7 1578.4,459.8 1582.2,464.2 1586.0,468.9 1589.8,473.8 1593.6,479.1 1597.5,484.6 1601.3,490.5 1605.1,496.6 1608.9,503.1 1612.7,509.9 1616.5,517.1 1620.3,524.5 1624.2,532.4 1628.0,540.5 1631.8,549.0 1635.6,557.9 1639.4,567.2 1643.2,576.8 1647.1,586.8 1650.9,597.2 1654.7,607.9 1658.5,619.1 1662.3,630.6 1666.1,642.6 1669.9,654.9 1673.8,667.7 1677.6,680.9 1681.4,694.4 1685.2,708.4 1689.0,722.8 1692.8,737.7 1696.7,752.9 1700.5,768.6 1704.3,784.7 1708.1,801.2 1711.9,818.2 1715.7,835.6 1719.5,853.4 1723.4,871.6 1727.2,890.3 1731.0,909.5 1734.8,929.0 1738.6,949.0 1742.4,969.4 1746.3,990.3 1750.1,1011.6 1753.9,1033.3 1757.7,1055.5 1761.5,1078.1 1765.3,1101.1 1769.1,1124.6 1773.0,1148.5 1776.8,1172.8 1780.6,1197.5 1784.4,1222.7 1788.2,1248.3 1792.0,1274.3 1795.9,1300.8 1799.7,1327.6 1803.5,1354.9 1807.3,1382.6 1811.1,1410.8 1814.9,1439.3" fill="none" stroke="#6620CE" stroke-width="6.2" stroke-linejoin="round" stroke-linecap="round"/><polyline points="289.2,1409.6 293.0,1407.0 296.8,1404.4 300.5,1401.9 304.3,1399.3 308.1,1396.8 311.9,1394.2 315.6,1391.7 319.4,1389.1 323.2,1386.6 326.9,1384.0 330.7,1381.4 334.5,1378.9 338.2,1376.3 342.0,1373.8 345.8,1371.2 349.6,1368.7 353.3,1366.1 357.1,1363.6 360.9,1361.0 364.6,1358.5 368.4,1355.9 372.2,1353.4 375.9,1350.9 379.7,1348.3 383.5,1345.8 387.3,1343.2 391.0,1340.7 394.8,1338.1 398.6,1335.6 402.3,1333.1 406.1,1330.5 409.9,1328.0 413.6,1325.4 417.4,1322.9 421.2,1320.4 424.9,1317.8 428.7,1315.3 432.5,1312.7 436.3,1310.2 440.0,1307.7 443.8,1305.1 447.6,1302.6 451.3,1300.1 455.1,1297.5 458.9,1295.0 462.6,1292.5 466.4,1289.9 470.2,1287.4 474.0,1284.9 477.7,1282.3 481.5,1279.8 485.3,1277.3 489.0,1274.8 492.8,1272.2 496.6,1269.7 500.3,1267.2 504.1,1264.6 507.9,1262.1 511.7,1259.6 515.4,1257.1 519.2,1254.6 523.0,1252.0 526.7,1249.5 530.5,1247.0 534.3,1244.5 538.0,1241.9 541.8,1239.4 545.6,1236.9 549.4,1234.4 553.1,1231.9 556.9,1229.4 560.7,1226.8 564.4,1224.3 568.2,1221.8 572.0,1219.3 575.7,1216.8 579.5,1214.3 583.3,1211.7 587.1,1209.2 590.8,1206.7 594.6,1204.2 598.4,1201.7 602.1,1199.2 605.9,1196.7 609.7,1194.2 613.4,1191.7 617.2,1189.2 621.0,1186.7 624.7,1184.1 628.5,1181.6 632.3,1179.1 636.1,1176.6 639.8,1174.1 643.6,1171.6 647.4,1169.1 651.1,1166.6 654.9,1164.1 658.7,1161.6 662.4,1159.1 666.2,1156.6 670.0,1154.1 673.8,1151.6 677.5,1149.1 681.3,1146.6 685.1,1144.1 688.8,1141.6 692.6,1139.1 696.4,1136.6 700.1,1134.1 703.9,1131.6 707.7,1129.2 711.5,1126.7 715.2,1124.2 719.0,1121.7 722.8,1119.2 726.5,1116.7 730.3,1114.2 734.1,1111.7 737.8,1109.2 741.6,1106.7 745.4,1104.3 749.2,1101.8 752.9,1099.3 756.7,1096.8 760.5,1094.3 764.2,1091.8 768.0,1089.3 771.8,1086.9 775.5,1084.4 779.3,1081.9 783.1,1079.4 786.8,1076.9 790.6,1074.5 794.4,1072.0 798.2,1069.5 801.9,1067.0 805.7,1064.5 809.5,1062.1 813.2,1059.6 817.0,1057.1 820.8,1054.6 824.5,1052.2 828.3,1049.7 832.1,1047.2 835.9,1044.7 839.6,1042.3 843.4,1039.8 847.2,1037.3 850.9,1034.9 854.7,1032.4 858.5,1029.9 862.2,1027.4 866.0,1025.0 869.8,1022.5 873.6,1020.0 877.3,1017.6 881.1,1015.1 884.9,1012.6 888.6,1010.2 892.4,1007.7 896.2,1005.3 899.9,1002.8 903.7,1000.3 907.5,997.9 911.3,995.4 915.0,993.0 918.8,990.5 922.6,988.0 926.3,985.6 930.1,983.1 933.9,980.7 937.6,978.2 941.4,975.8 945.2,973.3 949.0,970.9 952.7,968.4 956.5,965.9 960.3,963.5 964.0,961.0 967.8,958.6 971.6,956.1 975.3,953.7 979.1,951.2 982.9,948.8 986.6,946.4 990.4,943.9 994.2,941.5 998.0,939.0 1001.7,936.6 1005.5,934.1 1009.3,931.7 1013.0,929.3 1016.8,926.8 1020.6,924.4 1024.3,921.9 1028.1,919.5 1031.9,917.1 1035.7,914.6 1039.4,912.2 1043.2,909.8 1047.0,907.3 1050.7,904.9 1054.5,902.5 1058.3,900.0 1062.0,897.6 1065.8,895.2 1069.6,892.8 1073.4,890.3 1077.1,887.9 1080.9,885.5 1084.7,883.1 1088.4,880.6 1092.2,878.2 1096.0,875.8 1099.7,873.4 1103.5,871.0 1107.3,868.5 1111.1,866.1 1114.8,863.7 1118.6,861.3 1122.4,858.9 1126.1,856.5 1129.9,854.1 1133.7,851.7 1137.4,849.3 1141.2,846.9 1145.0,844.5 1148.7,842.1 1152.5,839.7 1156.3,837.3 1160.1,834.9 1163.8,832.5 1167.6,830.1 1171.4,827.8 1175.1,825.4 1178.9,823.0 1182.7,820.6 1186.4,818.2 1190.2,815.9 1194.0,813.5 1197.8,811.1 1201.5,808.8 1205.3,806.4 1209.1,804.1 1212.8,801.7 1216.6,799.4 1220.4,797.0 1224.1,794.7 1227.9,792.4 1231.7,790.0 1235.5,787.7 1239.2,785.4 1243.0,783.1 1246.8,780.8 1250.5,778.5 1254.3,776.2 1258.1,773.9 1261.8,771.6 1265.6,769.3 1269.4,767.1 1273.2,764.8 1276.9,762.6 1280.7,760.3 1284.5,758.1 1288.2,755.8 1292.0,753.6 1295.8,751.4 1299.5,749.2 1303.3,747.0 1307.1,744.9 1310.9,742.7 1314.6,740.6 1318.4,738.4 1322.2,736.3 1325.9,734.2 1329.7,732.1 1333.5,730.0 1337.2,728.0 1341.0,725.9 1344.8,723.9 1348.5,721.9 1352.3,719.9 1356.1,717.9 1359.9,716.0 1363.6,714.1 1367.4,712.2 1371.2,710.3 1374.9,708.5 1378.7,706.6 1382.5,704.8 1386.2,703.1 1390.0,701.4 1393.8,699.7 1397.6,698.0 1401.3,696.4 1405.1,694.8 1408.9,693.3 1412.6,691.8 1416.4,690.3 1420.2,688.9 1423.9,687.5 1427.7,686.2 1431.5,685.0 1435.3,683.7 1439.0,682.6 1442.8,681.5 1446.6,680.5 1450.3,679.5 1454.1,678.6 1457.9,677.8 1461.6,677.0 1465.4,676.4 1469.2,675.8 1473.0,675.3 1476.7,674.8 1480.5,674.5 1484.3,674.3 1488.0,674.1 1491.8,674.1 1495.6,674.1 1499.3,674.3 1503.1,674.6 1506.9,675.0 1510.7,675.6 1514.4,676.2 1518.2,677.0 1522.0,678.0 1525.7,679.0 1529.5,680.3 1533.3,681.7 1537.0,683.2 1540.8,684.9 1544.6,686.8 1548.3,688.8 1552.1,691.1 1555.9,693.5 1559.7,696.1 1563.4,698.9 1567.2,701.9 1571.0,705.1 1574.7,708.6 1578.5,712.2 1582.3,716.1 1586.0,720.2 1589.8,724.6 1593.6,729.2 1597.4,734.1 1601.1,739.2 1604.9,744.6 1608.7,750.2 1612.4,756.1 1616.2,762.3 1620.0,768.8 1623.7,775.6 1627.5,782.7 1631.3,790.1 1635.1,797.8 1638.8,805.8 1642.6,814.1 1646.4,822.7 1650.1,831.7 1653.9,841.0 1657.7,850.6 1661.4,860.6 1665.2,870.9 1669.0,881.5 1672.8,892.5 1676.5,903.9 1680.3,915.6 1684.1,927.6 1687.8,940.1 1691.6,952.9 1695.4,966.0 1699.1,979.5 1702.9,993.4 1706.7,1007.7 1710.4,1022.3 1714.2,1037.3 1718.0,1052.7 1721.8,1068.4 1725.5,1084.6 1729.3,1101.1 1733.1,1118.0 1736.8,1135.2 1740.6,1152.9 1744.4,1170.9 1748.1,1189.3 1751.9,1208.0 1755.7,1227.2 1759.5,1246.7 1763.2,1266.6 1767.0,1286.9 1770.8,1307.6 1774.5,1328.6 1778.3,1350.0 1782.1,1371.8 1785.8,1393.9 1789.6,1416.4 1793.4,1439.3" fill="none" stroke="#817F1E" stroke-width="6.2" stroke-linejoin="round" stroke-linecap="round"/><polyline points="288.6,1420.5 292.2,1418.9 295.9,1417.3 299.6,1415.7 303.3,1414.1 307.0,1412.5 310.7,1410.9 314.4,1409.3 318.0,1407.7 321.7,1406.1 325.4,1404.5 329.1,1402.9 332.8,1401.3 336.5,1399.7 340.1,1398.1 343.8,1396.5 347.5,1394.9 351.2,1393.2 354.9,1391.6 358.6,1390.0 362.2,1388.4 365.9,1386.8 369.6,1385.2 373.3,1383.6 377.0,1382.0 380.7,1380.4 384.3,1378.8 388.0,1377.2 391.7,1375.6 395.4,1374.0 399.1,1372.4 402.8,1370.8 406.4,1369.2 410.1,1367.6 413.8,1366.0 417.5,1364.4 421.2,1362.7 424.9,1361.1 428.5,1359.5 432.2,1357.9 435.9,1356.3 439.6,1354.7 443.3,1353.1 447.0,1351.5 450.6,1349.9 454.3,1348.3 458.0,1346.7 461.7,1345.1 465.4,1343.5 469.1,1341.9 472.8,1340.3 476.4,1338.7 480.1,1337.1 483.8,1335.5 487.5,1333.9 491.2,1332.2 494.9,1330.6 498.5,1329.0 502.2,1327.4 505.9,1325.8 509.6,1324.2 513.3,1322.6 517.0,1321.0 520.6,1319.4 524.3,1317.8 528.0,1316.2 531.7,1314.6 535.4,1313.0 539.1,1311.4 542.7,1309.8 546.4,1308.2 550.1,1306.6 553.8,1305.0 557.5,1303.4 561.2,1301.7 564.8,1300.1 568.5,1298.5 572.2,1296.9 575.9,1295.3 579.6,1293.7 583.3,1292.1 586.9,1290.5 590.6,1288.9 594.3,1287.3 598.0,1285.7 601.7,1284.1 605.4,1282.5 609.0,1280.9 612.7,1279.3 616.4,1277.7 620.1,1276.1 623.8,1274.5 627.5,1272.9 631.2,1271.2 634.8,1269.6 638.5,1268.0 642.2,1266.4 645.9,1264.8 649.6,1263.2 653.3,1261.6 656.9,1260.0 660.6,1258.4 664.3,1256.8 668.0,1255.2 671.7,1253.6 675.4,1252.0 679.0,1250.4 682.7,1248.8 686.4,1247.2 690.1,1245.6 693.8,1244.0 697.5,1242.4 701.1,1240.7 704.8,1239.1 708.5,1237.5 712.2,1235.9 715.9,1234.3 719.6,1232.7 723.2,1231.1 726.9,1229.5 730.6,1227.9 734.3,1226.3 738.0,1224.7 741.7,1223.1 745.3,1221.5 749.0,1219.9 752.7,1218.3 756.4,1216.7 760.1,1215.1 763.8,1213.5 767.4,1211.9 771.1,1210.3 774.8,1208.6 778.5,1207.0 782.2,1205.4 785.9,1203.8 789.6,1202.2 793.2,1200.6 796.9,1199.0 800.6,1197.4 804.3,1195.8 808.0,1194.2 811.7,1192.6 815.3,1191.0 819.0,1189.4 822.7,1187.8 826.4,1186.2 830.1,1184.6 833.8,1183.0 837.4,1181.4 841.1,1179.8 844.8,1178.2 848.5,1176.5 852.2,1174.9 855.9,1173.3 859.5,1171.7 863.2,1170.1 866.9,1168.5 870.6,1166.9 874.3,1165.3 878.0,1163.7 881.6,1162.1 885.3,1160.5 889.0,1158.9 892.7,1157.3 896.4,1155.7 900.1,1154.1 903.7,1152.5 907.4,1150.9 911.1,1149.3 914.8,1147.7 918.5,1146.1 922.2,1144.5 925.8,1142.8 929.5,1141.2 933.2,1139.6 936.9,1138.0 940.6,1136.4 944.3,1134.8 948.0,1133.2 951.6,1131.6 955.3,1130.0 959.0,1128.4 962.7,1126.8 966.4,1125.2 970.1,1123.6 973.7,1122.0 977.4,1120.4 981.1,1118.8 984.8,1117.2 988.5,1115.6 992.2,1114.0 995.8,1112.4 999.5,1110.8 1003.2,1109.2 1006.9,1107.6 1010.6,1106.0 1014.3,1104.4 1017.9,1102.8 1021.6,1101.2 1025.3,1099.6 1029.0,1098.0 1032.7,1096.4 1036.4,1094.8 1040.0,1093.2 1043.7,1091.6 1047.4,1090.0 1051.1,1088.4 1054.8,1086.8 1058.5,1085.2 1062.1,1083.6 1065.8,1082.0 1069.5,1080.4 1073.2,1078.8 1076.9,1077.2 1080.6,1075.6 1084.2,1074.0 1087.9,1072.4 1091.6,1070.8 1095.3,1069.2 1099.0,1067.6 1102.7,1066.0 1106.4,1064.4 1110.0,1062.8 1113.7,1061.2 1117.4,1059.6 1121.1,1058.0 1124.8,1056.4 1128.5,1054.9 1132.1,1053.3 1135.8,1051.7 1139.5,1050.1 1143.2,1048.5 1146.9,1046.9 1150.6,1045.3 1154.2,1043.8 1157.9,1042.2 1161.6,1040.6 1165.3,1039.0 1169.0,1037.4 1172.7,1035.9 1176.3,1034.3 1180.0,1032.7 1183.7,1031.1 1187.4,1029.6 1191.1,1028.0 1194.8,1026.4 1198.4,1024.9 1202.1,1023.3 1205.8,1021.7 1209.5,1020.2 1213.2,1018.6 1216.9,1017.1 1220.5,1015.5 1224.2,1014.0 1227.9,1012.4 1231.6,1010.9 1235.3,1009.3 1239.0,1007.8 1242.6,1006.2 1246.3,1004.7 1250.0,1003.2 1253.7,1001.7 1257.4,1000.1 1261.1,998.6 1264.8,997.1 1268.4,995.6 1272.1,994.1 1275.8,992.6 1279.5,991.1 1283.2,989.6 1286.9,988.2 1290.5,986.7 1294.2,985.2 1297.9,983.8 1301.6,982.3 1305.3,980.9 1309.0,979.4 1312.6,978.0 1316.3,976.6 1320.0,975.2 1323.7,973.8 1327.4,972.4 1331.1,971.0 1334.7,969.6 1338.4,968.3 1342.1,966.9 1345.8,965.6 1349.5,964.3 1353.2,963.0 1356.8,961.7 1360.5,960.4 1364.2,959.2 1367.9,957.9 1371.6,956.7 1375.3,955.5 1378.9,954.3 1382.6,953.2 1386.3,952.0 1390.0,950.9 1393.7,949.8 1397.4,948.7 1401.0,947.7 1404.7,946.7 1408.4,945.7 1412.1,944.7 1415.8,943.8 1419.5,942.9 1423.2,942.1 1426.8,941.2 1430.5,940.5 1434.2,939.7 1437.9,939.0 1441.6,938.3 1445.3,937.7 1448.9,937.1 1452.6,936.6 1456.3,936.1 1460.0,935.7 1463.7,935.4 1467.4,935.0 1471.0,934.8 1474.7,934.6 1478.4,934.5 1482.1,934.4 1485.8,934.5 1489.5,934.6 1493.1,934.7 1496.8,935.0 1500.5,935.3 1504.2,935.7 1507.9,936.2 1511.6,936.9 1515.2,937.6 1518.9,938.4 1522.6,939.3 1526.3,940.3 1530.0,941.4 1533.7,942.7 1537.3,944.1 1541.0,945.6 1544.7,947.2 1548.4,949.0 1552.1,950.9 1555.8,953.0 1559.4,955.2 1563.1,957.5 1566.8,960.1 1570.5,962.7 1574.2,965.6 1577.9,968.6 1581.6,971.9 1585.2,975.3 1588.9,978.9 1592.6,982.7 1596.3,986.7 1600.0,990.9 1603.7,995.3 1607.3,1000.0 1611.0,1004.8 1614.7,1009.9 1618.4,1015.3 1622.1,1020.9 1625.8,1026.7 1629.4,1032.8 1633.1,1039.1 1636.8,1045.7 1640.5,1052.6 1644.2,1059.8 1647.9,1067.2 1651.5,1074.9 1655.2,1082.9 1658.9,1091.2 1662.6,1099.8 1666.3,1108.7 1670.0,1117.9 1673.6,1127.4 1677.3,1137.3 1681.0,1147.4 1684.7,1157.9 1688.4,1168.7 1692.1,1179.8 1695.7,1191.3 1699.4,1203.1 1703.1,1215.2 1706.8,1227.7 1710.5,1240.5 1714.2,1253.7 1717.8,1267.2 1721.5,1281.1 1725.2,1295.3 1728.9,1309.9 1732.6,1324.8 1736.3,1340.1 1740.0,1355.7 1743.6,1371.7 1747.3,1388.1 1751.0,1404.8 1754.7,1421.9 1758.4,1439.3" fill="none" stroke="#1B6E26" stroke-width="6.2" stroke-linejoin="round" stroke-linecap="round"/><polyline points="290.6,1429.1 294.1,1428.3 297.7,1427.5 301.2,1426.7 304.7,1425.9 308.3,1425.1 311.8,1424.3 315.3,1423.5 318.9,1422.7 322.4,1421.9 326.0,1421.2 329.5,1420.4 333.0,1419.6 336.6,1418.8 340.1,1418.0 343.6,1417.2 347.2,1416.4 350.7,1415.6 354.3,1414.8 357.8,1414.0 361.3,1413.2 364.9,1412.4 368.4,1411.6 371.9,1410.8 375.5,1410.0 379.0,1409.2 382.5,1408.5 386.1,1407.7 389.6,1406.9 393.2,1406.1 396.7,1405.3 400.2,1404.5 403.8,1403.7 407.3,1402.9 410.8,1402.1 414.4,1401.3 417.9,1400.5 421.5,1399.8 425.0,1399.0 428.5,1398.2 432.1,1397.4 435.6,1396.6 439.1,1395.8 442.7,1395.0 446.2,1394.2 449.8,1393.4 453.3,1392.7 456.8,1391.9 460.4,1391.1 463.9,1390.3 467.4,1389.5 471.0,1388.7 474.5,1387.9 478.0,1387.1 481.6,1386.4 485.1,1385.6 488.7,1384.8 492.2,1384.0 495.7,1383.2 499.3,1382.4 502.8,1381.6 506.3,1380.9 509.9,1380.1 513.4,1379.3 517.0,1378.5 520.5,1377.7 524.0,1376.9 527.6,1376.2 531.1,1375.4 534.6,1374.6 538.2,1373.8 541.7,1373.0 545.3,1372.2 548.8,1371.5 552.3,1370.7 555.9,1369.9 559.4,1369.1 562.9,1368.3 566.5,1367.5 570.0,1366.8 573.6,1366.0 577.1,1365.2 580.6,1364.4 584.2,1363.6 587.7,1362.9 591.2,1362.1 594.8,1361.3 598.3,1360.5 601.8,1359.7 605.4,1359.0 608.9,1358.2 612.5,1357.4 616.0,1356.6 619.5,1355.9 623.1,1355.1 626.6,1354.3 630.1,1353.5 633.7,1352.7 637.2,1352.0 640.8,1351.2 644.3,1350.4 647.8,1349.6 651.4,1348.9 654.9,1348.1 658.4,1347.3 662.0,1346.5 665.5,1345.8 669.1,1345.0 672.6,1344.2 676.1,1343.4 679.7,1342.7 683.2,1341.9 686.7,1341.1 690.3,1340.3 693.8,1339.6 697.3,1338.8 700.9,1338.0 704.4,1337.2 708.0,1336.5 711.5,1335.7 715.0,1334.9 718.6,1334.2 722.1,1333.4 725.6,1332.6 729.2,1331.8 732.7,1331.1 736.3,1330.3 739.8,1329.5 743.3,1328.8 746.9,1328.0 750.4,1327.2 753.9,1326.4 757.5,1325.7 761.0,1324.9 764.6,1324.1 768.1,1323.4 771.6,1322.6 775.2,1321.8 778.7,1321.1 782.2,1320.3 785.8,1319.5 789.3,1318.8 792.8,1318.0 796.4,1317.2 799.9,1316.5 803.5,1315.7 807.0,1314.9 810.5,1314.2 814.1,1313.4 817.6,1312.6 821.1,1311.9 824.7,1311.1 828.2,1310.3 831.8,1309.6 835.3,1308.8 838.8,1308.0 842.4,1307.3 845.9,1306.5 849.4,1305.7 853.0,1305.0 856.5,1304.2 860.1,1303.5 863.6,1302.7 867.1,1301.9 870.7,1301.2 874.2,1300.4 877.7,1299.6 881.3,1298.9 884.8,1298.1 888.4,1297.4 891.9,1296.6 895.4,1295.8 899.0,1295.1 902.5,1294.3 906.0,1293.5 909.6,1292.8 913.1,1292.0 916.6,1291.3 920.2,1290.5 923.7,1289.7 927.3,1289.0 930.8,1288.2 934.3,1287.5 937.9,1286.7 941.4,1286.0 944.9,1285.2 948.5,1284.4 952.0,1283.7 955.6,1282.9 959.1,1282.2 962.6,1281.4 966.2,1280.7 969.7,1279.9 973.2,1279.1 976.8,1278.4 980.3,1277.6 983.9,1276.9 987.4,1276.1 990.9,1275.4 994.5,1274.6 998.0,1273.9 1001.5,1273.1 1005.1,1272.3 1008.6,1271.6 1012.1,1270.8 1015.7,1270.1 1019.2,1269.3 1022.8,1268.6 1026.3,1267.8 1029.8,1267.1 1033.4,1266.3 1036.9,1265.6 1040.4,1264.8 1044.0,1264.1 1047.5,1263.3 1051.1,1262.6 1054.6,1261.8 1058.1,1261.1 1061.7,1260.3 1065.2,1259.6 1068.7,1258.8 1072.3,1258.1 1075.8,1257.3 1079.4,1256.6 1082.9,1255.8 1086.4,1255.1 1090.0,1254.3 1093.5,1253.6 1097.0,1252.9 1100.6,1252.1 1104.1,1251.4 1107.7,1250.6 1111.2,1249.9 1114.7,1249.1 1118.3,1248.4 1121.8,1247.7 1125.3,1246.9 1128.9,1246.2 1132.4,1245.4 1135.9,1244.7 1139.5,1244.0 1143.0,1243.2 1146.6,1242.5 1150.1,1241.7 1153.6,1241.0 1157.2,1240.3 1160.7,1239.5 1164.2,1238.8 1167.8,1238.1 1171.3,1237.3 1174.9,1236.6 1178.4,1235.9 1181.9,1235.2 1185.5,1234.4 1189.0,1233.7 1192.5,1233.0 1196.1,1232.3 1199.6,1231.5 1203.2,1230.8 1206.7,1230.1 1210.2,1229.4 1213.8,1228.6 1217.3,1227.9 1220.8,1227.2 1224.4,1226.5 1227.9,1225.8 1231.4,1225.1 1235.0,1224.4 1238.5,1223.7 1242.1,1223.0 1245.6,1222.3 1249.1,1221.6 1252.7,1220.9 1256.2,1220.2 1259.7,1219.5 1263.3,1218.8 1266.8,1218.1 1270.4,1217.4 1273.9,1216.7 1277.4,1216.1 1281.0,1215.4 1284.5,1214.7 1288.0,1214.0 1291.6,1213.4 1295.1,1212.7 1298.7,1212.1 1302.2,1211.4 1305.7,1210.8 1309.3,1210.1 1312.8,1209.5 1316.3,1208.9 1319.9,1208.2 1323.4,1207.6 1327.0,1207.0 1330.5,1206.4 1334.0,1205.8 1337.6,1205.2 1341.1,1204.6 1344.6,1204.0 1348.2,1203.5 1351.7,1202.9 1355.2,1202.4 1358.8,1201.8 1362.3,1201.3 1365.9,1200.8 1369.4,1200.3 1372.9,1199.8 1376.5,1199.3 1380.0,1198.8 1383.5,1198.3 1387.1,1197.9 1390.6,1197.5 1394.2,1197.0 1397.7,1196.6 1401.2,1196.3 1404.8,1195.9 1408.3,1195.5 1411.8,1195.2 1415.4,1194.9 1418.9,1194.6 1422.5,1194.3 1426.0,1194.1 1429.5,1193.9 1433.1,1193.7 1436.6,1193.5 1440.1,1193.4 1443.7,1193.3 1447.2,1193.2 1450.7,1193.2 1454.3,1193.2 1457.8,1193.2 1461.4,1193.2 1464.9,1193.3 1468.4,1193.5 1472.0,1193.7 1475.5,1193.9 1479.0,1194.2 1482.6,1194.5 1486.1,1194.9 1489.7,1195.3 1493.2,1195.8 1496.7,1196.3 1500.3,1196.9 1503.8,1197.5 1507.3,1198.3 1510.9,1199.0 1514.4,1199.9 1518.0,1200.8 1521.5,1201.8 1525.0,1202.9 1528.6,1204.1 1532.1,1205.3 1535.6,1206.6 1539.2,1208.1 1542.7,1209.6 1546.3,1211.2 1549.8,1212.9 1553.3,1214.8 1556.9,1216.7 1560.4,1218.7 1563.9,1220.9 1567.5,1223.2 1571.0,1225.6 1574.5,1228.1 1578.1,1230.8 1581.6,1233.6 1585.2,1236.6 1588.7,1239.7 1592.2,1242.9 1595.8,1246.3 1599.3,1249.9 1602.8,1253.6 1606.4,1257.5 1609.9,1261.5 1613.5,1265.7 1617.0,1270.2 1620.5,1274.7 1624.1,1279.5 1627.6,1284.5 1631.1,1289.7 1634.7,1295.0 1638.2,1300.6 1641.8,1306.4 1645.3,1312.3 1648.8,1318.5 1652.4,1325.0 1655.9,1331.6 1659.4,1338.4 1663.0,1345.5 1666.5,1352.9 1670.0,1360.4 1673.6,1368.2 1677.1,1376.2 1680.7,1384.5 1684.2,1393.0 1687.7,1401.8 1691.3,1410.8 1694.8,1420.0 1698.3,1429.5 1701.9,1439.3" fill="none" stroke="#CA1B2A" stroke-width="6.2" stroke-linejoin="round" stroke-linecap="round"/></g>
<rect x="245.5" y="82.5" width="1682.2" height="1356.8" fill="none" stroke="#000" stroke-width="5.5"/>
<g font-family="'Liberation Serif', serif" font-size="56" fill="#1e1e1e"><text x="245.5" y="1515" text-anchor="middle">0</text><text x="581.9" y="1515" text-anchor="middle">5</text><text x="918.4" y="1515" text-anchor="middle">10</text><text x="1254.8" y="1515" text-anchor="middle">15</text><text x="1591.3" y="1515" text-anchor="middle">20</text><text x="1927.7" y="1515" text-anchor="middle">25</text><text x="216" y="1461.3" text-anchor="end">0</text><text x="216" y="1189.9" text-anchor="end">30</text><text x="216" y="918.6" text-anchor="end">60</text><text x="216" y="647.2" text-anchor="end">90</text><text x="216" y="375.9" text-anchor="end">120</text><text x="216" y="104.5" text-anchor="end">150</text></g>
<g font-family="'Liberation Serif', serif" fill="#111"><line x1="275" y1="174" x2="396" y2="174" stroke="#000" stroke-width="6"/><text x="418" y="191" font-size="51"><tspan font-style="italic">P</tspan> calculated by using extracted parameters</text><text x="276.5" y="252" font-size="51">Symbles:Experimental data</text><path d="M335.5 294.0L351.0 309.5L335.5 325.0L320.0 309.5Z" fill="#FFF9F0" stroke="#AC9C80" stroke-width="1.6"/><text x="407.5" y="324.5" font-size="50.5">1000W/m<tspan font-size="31" dy="-21">2</tspan></text><path d="M320.8 372.0L350.2 372.0L335.5 397.5Z" fill="#FBF6FF" stroke="#584A6A" stroke-width="1.6"/><text x="407.5" y="395.7" font-size="50.5">800W/m<tspan font-size="31" dy="-21">2</tspan></text><path d="M320.8 460.5L350.2 460.5L335.5 435.0Z" fill="#FDFDEE" stroke="#6A6A48" stroke-width="1.6"/><text x="407.5" y="467" font-size="50.5">600W/m<tspan font-size="31" dy="-21">2</tspan></text><circle cx="335.5" cy="521.4" r="11.8" fill="#F2FDF2" stroke="#4A604A" stroke-width="1.6"/><text x="407.5" y="536.5" font-size="50.5">400W/m<tspan font-size="31" dy="-21">2</tspan></text><rect x="324.2" y="582.3" width="22.6" height="22.6" fill="#FFF3F3" stroke="#744848" stroke-width="1.6"/><text x="407.5" y="608" font-size="50.5">200W/m<tspan font-size="31" dy="-21">2</tspan></text></g>
<g font-family="'Liberation Serif', serif" font-size="70" fill="#000">
<text x="1090" y="1614" text-anchor="middle"><tspan font-style="italic">V</tspan> (V)</text>
<text transform="translate(100.6 763) rotate(-90)" text-anchor="middle" font-size="70.5"><tspan font-style="italic">P</tspan> (W)</text>
</g>
</svg></body></html>
